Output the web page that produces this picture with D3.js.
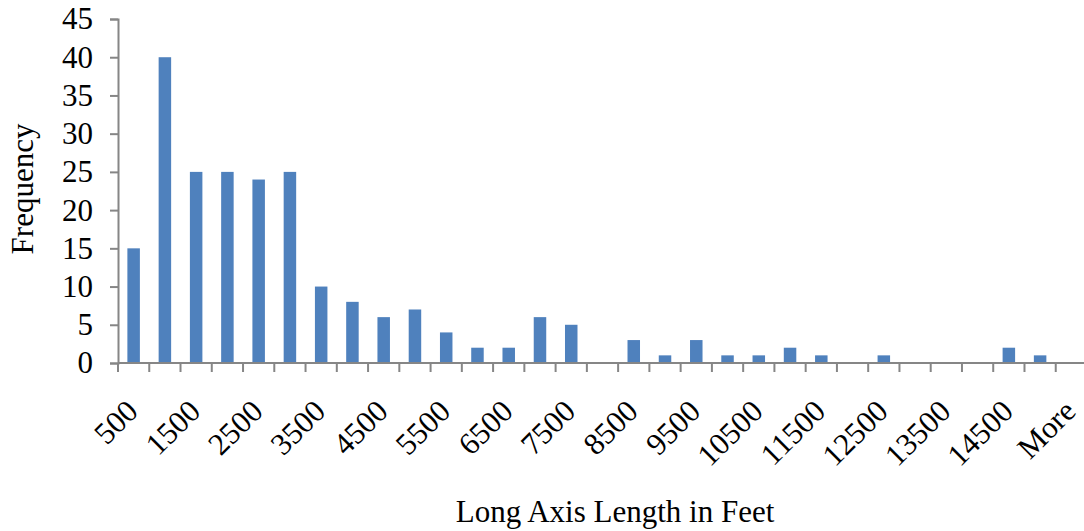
<!DOCTYPE html>
<html>
<head>
<meta charset="utf-8">
<script src="https://cdn.jsdelivr.net/npm/d3@7"></script>
<style>
  body { margin: 0; background: #fff; }
  text { font-family: "Liberation Serif", "Times New Roman", serif; fill: #000; }
</style>
</head>
<body>
<div class="chart"></div>
<script>
// bins (upper edge of each bin) and counts
const bins = ['500', '1000', '1500', '2000', '2500', '3000', '3500', '4000', '4500', '5000',
  '5500', '6000', '6500', '7000', '7500', '8000', '8500', '9000', '9500', '10000',
  '10500', '11000', '11500', '12000', '12500', '13000', '13500', '14000', '14500', '15000', 'More']
const counts = [15, 40, 25, 25, 24, 25, 10, 8, 6, 7,
  4, 2, 2, 6, 5, 0, 3, 1, 3, 1,
  1, 2, 1, 0, 1, 0, 0, 0, 2, 1, 0]
const yTicks = [0, 5, 10, 15, 20, 25, 30, 35, 40, 45]

const width = 1084
const height = 531
const fontSize = '31px'

const svg = d3.select('.chart').append('svg')
  .attr('width', width)
  .attr('height', height)

// plot area
const x0 = 118
const x1 = 1087
const yTop = 19
const yBottom = 363

const xScale = d3.scaleBand()
  .domain(bins)
  .range([x0, x1])

const yScale = d3.scaleLinear()
  .domain([0, 45])
  .range([yBottom, yTop])

const axisColor = '#868686'

// y axis
const yAxis = d3.axisLeft(yScale)
  .tickValues(yTicks)
  .tickSize(8)
  .tickPadding(17)

const gy = svg.append('g')
  .attr('transform', `translate(${x0}, 0)`)
  .call(yAxis)
gy.select('.domain').attr('stroke', axisColor).attr('stroke-width', 2)
gy.selectAll('.tick line').attr('stroke', axisColor).attr('stroke-width', 2)
gy.selectAll('.tick text')
  .style('font-size', fontSize)
  .attr('dy', '0.32em')

// bars
const barWidth = 12.5
svg.append('g')
  .selectAll('rect')
  .data(counts)
  .enter()
  .append('rect')
  .attr('x', (d, i) => xScale(bins[i]) + xScale.bandwidth() / 2 - barWidth / 2)
  .attr('y', (d) => yScale(d))
  .attr('width', barWidth)
  .attr('height', (d) => yBottom - yScale(d))
  .attr('fill', '#4f81bd')

// x axis: ticks on category boundaries
const gx = svg.append('g')
  .attr('transform', `translate(0, ${yBottom})`)
gx.append('line')
  .attr('x1', x0).attr('x2', x1)
  .attr('stroke', axisColor).attr('stroke-width', 2)
gx.selectAll('line.tk')
  .data(bins)
  .enter()
  .append('line')
  .attr('class', 'tk')
  .attr('x1', (d) => xScale(d))
  .attr('x2', (d) => xScale(d))
  .attr('y1', 0)
  .attr('y2', 9)
  .attr('stroke', axisColor)
  .attr('stroke-width', 2)

// labels every other bin, rotated
gx.selectAll('text')
  .data(bins.filter((d, i) => i % 2 === 0))
  .enter()
  .append('text')
  .attr('transform', (d) => `translate(${xScale(d) + xScale.bandwidth() / 2 + 6}, 50) rotate(-45)`)
  .attr('text-anchor', 'end')
  .style('font-size', fontSize)
  .text((d) => d)

// axis titles
svg.append('text')
  .attr('x', 615)
  .attr('y', 522)
  .attr('text-anchor', 'middle')
  .style('font-size', fontSize)
  .text('Long Axis Length in Feet')

svg.append('text')
  .attr('transform', 'translate(33, 189) rotate(-90)')
  .attr('text-anchor', 'middle')
  .style('font-size', fontSize)
  .text('Frequency')
</script>
</body>
</html>
